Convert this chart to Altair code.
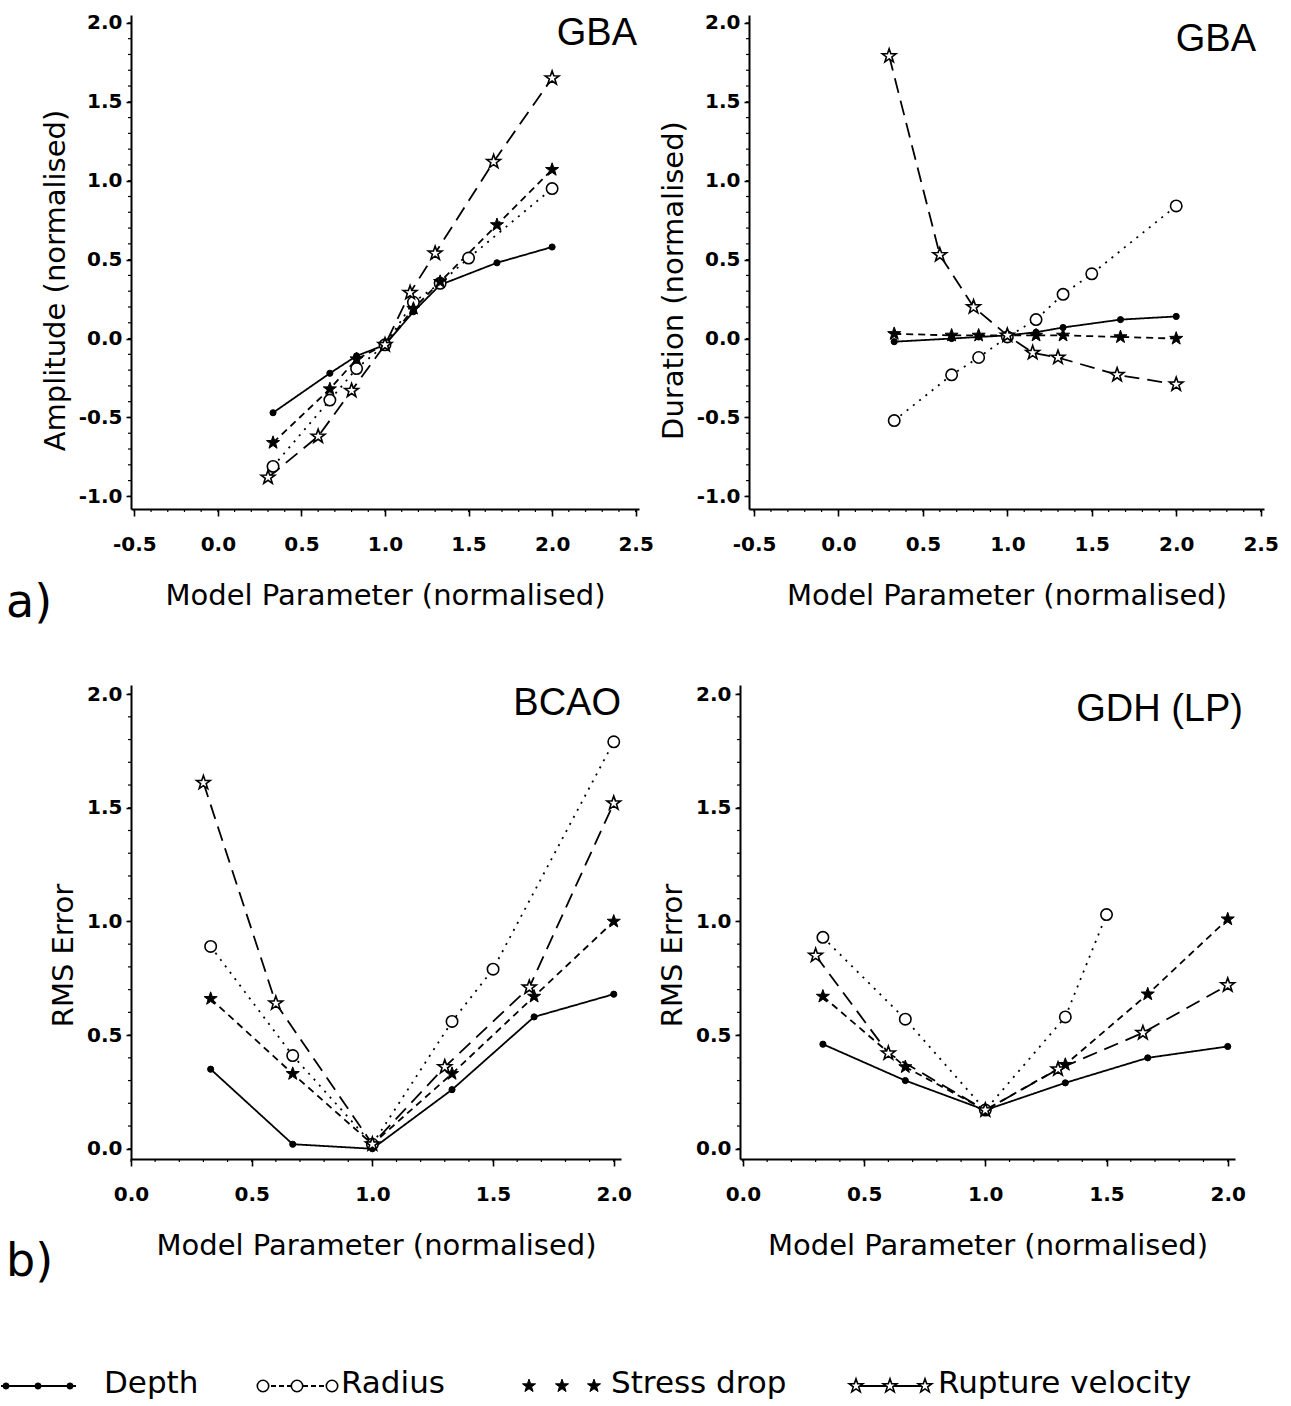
import altair as alt
import pandas as pd

SERIES = ["Depth", "Radius", "Stress drop", "Rupture velocity"]

# ---------------- data ----------------
# a) left: Amplitude (normalised), GBA
amp_depth_x = [0.33, 0.67, 0.83, 1.0, 1.17, 1.33, 1.67, 2.0]
amp_depth_y = [-0.47, -0.22, -0.11, -0.04, 0.17, 0.34, 0.48, 0.58]
amp_radius_x = [0.33, 0.67, 0.83, 1.0, 1.17, 1.33, 1.5, 2.0]
amp_radius_y = [-0.81, -0.39, -0.19, -0.04, 0.23, 0.35, 0.51, 0.95]
amp_stress_x = [0.33, 0.67, 0.83, 1.0, 1.17, 1.33, 1.67, 2.0]
amp_stress_y = [-0.66, -0.32, -0.13, -0.04, 0.19, 0.36, 0.72, 1.07]
amp_rupture_x = [0.3, 0.6, 0.8, 1.0, 1.15, 1.3, 1.65, 2.0]
amp_rupture_y = [-0.88, -0.62, -0.33, -0.04, 0.29, 0.54, 1.12, 1.65]

# a) right: Duration (normalised), GBA
dur_depth_x = [0.33, 0.67, 0.83, 1.0, 1.17, 1.33, 1.67, 2.0]
dur_depth_y = [-0.02, 0.0, 0.01, 0.02, 0.04, 0.07, 0.12, 0.14]
dur_radius_x = [0.33, 0.67, 0.83, 1.0, 1.17, 1.33, 1.5, 2.0]
dur_radius_y = [-0.52, -0.23, -0.12, 0.01, 0.12, 0.28, 0.41, 0.84]
dur_stress_x = [0.33, 0.67, 0.83, 1.0, 1.17, 1.33, 1.67, 2.0]
dur_stress_y = [0.03, 0.02, 0.02, 0.02, 0.02, 0.02, 0.01, 0.0]
dur_rupture_x = [0.3, 0.6, 0.8, 1.0, 1.15, 1.3, 1.65, 2.0]
dur_rupture_y = [1.79, 0.53, 0.2, 0.02, -0.09, -0.12, -0.23, -0.29]

# b) left: RMS Error, BCAO
bcao_depth_x = [0.33, 0.67, 1.0, 1.33, 1.67, 2.0]
bcao_depth_y = [0.35, 0.02, 0.0, 0.26, 0.58, 0.68]
bcao_radius_x = [0.33, 0.67, 1.0, 1.33, 1.5, 2.0]
bcao_radius_y = [0.89, 0.41, 0.02, 0.56, 0.79, 1.79]
bcao_stress_x = [0.33, 0.67, 1.0, 1.33, 1.67, 2.0]
bcao_stress_y = [0.66, 0.33, 0.02, 0.33, 0.67, 1.0]
bcao_rupture_x = [0.3, 0.6, 1.0, 1.3, 1.65, 2.0]
bcao_rupture_y = [1.61, 0.64, 0.02, 0.36, 0.71, 1.52]

# b) right: RMS Error, GDH (LP)
gdh_depth_x = [0.33, 0.67, 1.0, 1.33, 1.67, 2.0]
gdh_depth_y = [0.46, 0.30, 0.17, 0.29, 0.40, 0.45]
gdh_radius_x = [0.33, 0.67, 1.0, 1.33, 1.5]
gdh_radius_y = [0.93, 0.57, 0.17, 0.58, 1.03]
gdh_stress_x = [0.33, 0.67, 1.0, 1.33, 1.67, 2.0]
gdh_stress_y = [0.67, 0.36, 0.17, 0.37, 0.68, 1.01]
gdh_rupture_x = [0.3, 0.6, 1.0, 1.3, 1.65, 2.0]
gdh_rupture_y = [0.85, 0.42, 0.17, 0.35, 0.51, 0.72]

ticks_a_x = [-0.5, 0.0, 0.5, 1.0, 1.5, 2.0, 2.5]
ticks_a_y = [-1.0, -0.5, 0.0, 0.5, 1.0, 1.5, 2.0]
ticks_b_x = [0.0, 0.5, 1.0, 1.5, 2.0]
ticks_b_y = [0.0, 0.5, 1.0, 1.5, 2.0]
minor_a_x = [round(-0.5 + 0.1 * i, 2) for i in range(31)]
minor_a_y = [round(-1.0 + 0.1 * i, 2) for i in range(31)]
minor_b_x = [round(0.1 * i, 2) for i in range(21)]
minor_b_y = [round(0.1 * i, 2) for i in range(21)]

# ---------------- styles ----------------
STAR = ("M0,-1L0.235,-0.324L0.951,-0.309L0.38,0.124L0.588,0.809L0,0.4"
        "L-0.588,0.809L-0.38,0.124L-0.951,-0.309L-0.235,-0.324Z")
DASHES = [[1, 0], [2, 6], [7, 5], [15, 8]]
MARKERS = {
    "Depth": dict(shape="circle", fill="black", stroke="black", size=38, strokeWidth=1),
    "Radius": dict(shape="circle", fill="white", stroke="black", size=130, strokeWidth=1.6),
    "Stress drop": dict(shape=STAR, fill="black", stroke="black", size=190, strokeWidth=1),
    "Rupture velocity": dict(shape=STAR, fill="white", stroke="black", size=210, strokeWidth=1.6),
}
LABEL_FONT = "DejaVu Sans"
TITLE_FONT = "DejaVu Sans"
LABEL_EXPR = "(datum.value < 0 ? '-' : '') + format(abs(datum.value), '.1f')"


def make_df(lists):
    rows = []
    for s, (xs, ys) in zip(SERIES, lists):
        for x, y in zip(xs, ys):
            rows.append({"series": s, "x": x, "y": y})
    return pd.DataFrame(rows)


def axis(values, title, is_x, title_y=None):
    common = dict(
        values=values, labelExpr=LABEL_EXPR, title=title, grid=False,
        domainColor="black", domainWidth=2, tickColor="black", tickWidth=1.6,
        labelColor="black", labelFont=LABEL_FONT, labelFontSize=20,
        labelFontWeight="bold", titleFont=TITLE_FONT, titleFontSize=29,
        titleFontWeight="normal", titleColor="black", labelFlush=False,
    )
    if is_x:
        common.update(tickSize=7, labelPadding=18, titlePadding=27)
    else:
        common.update(tickSize=5, labelPadding=4, titlePadding=8)
        if title_y is not None:
            common.update(titleY=title_y)
    return alt.Axis(**common)


def panel(lists, xdom, ydom, xticks, yticks, xminor, yminor, ytitle, w, h,
          name, name_x, name_y, title_shift, tag=None, tag_x=0, tag_y=0):
    df = make_df(lists)
    base = alt.Chart(df)
    xs = alt.Scale(domain=xdom, nice=False, zero=False)
    ys = alt.Scale(domain=ydom, nice=False, zero=False)
    X = alt.X("x:Q", scale=xs, axis=axis(xticks, "Model Parameter (normalised)", True))
    Y = alt.Y("y:Q", scale=ys, axis=axis(yticks, ytitle, False, h / 2 + title_shift))
    lines = base.mark_line(color="black", strokeWidth=1.8).encode(
        x=X, y=Y, detail="series:N",
        strokeDash=alt.StrokeDash("series:N", scale=alt.Scale(domain=SERIES, range=DASHES), legend=None),
    )
    layers = [lines]
    # minor ticks
    layers.append(
        alt.Chart(pd.DataFrame({"x": xminor})).mark_rule(color="black", strokeWidth=1.2).encode(
            x=alt.X("x:Q", scale=xs), y=alt.value(h), y2=alt.value(h + 3))
    )
    layers.append(
        alt.Chart(pd.DataFrame({"y": yminor})).mark_rule(color="black", strokeWidth=1.2).encode(
            y=alt.Y("y:Q", scale=ys), x=alt.value(0), x2=alt.value(-3))
    )
    for s in SERIES:
        m = MARKERS[s]
        layers.append(
            base.transform_filter(alt.datum.series == s)
            .mark_point(filled=True, opacity=1, **m)
            .encode(x=X, y=Y)
        )
    ttl = alt.Chart(pd.DataFrame({"t": [name]})).mark_text(
        font="Liberation Sans", fontSize=38, align="right", baseline="alphabetic", color="black"
    ).encode(text="t:N", x=alt.value(name_x), y=alt.value(name_y))
    layers.append(ttl)
    if tag:
        tg = alt.Chart(pd.DataFrame({"t": [tag]})).mark_text(
            font="DejaVu Sans", fontSize=46, align="left", baseline="middle", color="black"
        ).encode(text="t:N", x=alt.value(tag_x), y=alt.value(tag_y))
        layers.append(tg)
    return alt.layer(*layers).properties(width=w, height=h)


WA1, WA2, HA = 508, 515, 494
WB1, WB2, HB = 490, 495, 474

pa1 = panel([(amp_depth_x, amp_depth_y), (amp_radius_x, amp_radius_y),
             (amp_stress_x, amp_stress_y), (amp_rupture_x, amp_rupture_y)],
            [-0.52, 2.52], [-1.08, 2.05], ticks_a_x, ticks_a_y, minor_a_x, minor_a_y,
            "Amplitude (normalised)", WA1, HA, "GBA", WA1 - 2, 30, 18,
            tag="a)", tag_x=-125, tag_y=HA + 94)
pa2 = panel([(dur_depth_x, dur_depth_y), (dur_radius_x, dur_radius_y),
             (dur_stress_x, dur_stress_y), (dur_rupture_x, dur_rupture_y)],
            [-0.53, 2.52], [-1.08, 2.05], ticks_a_x, ticks_a_y, minor_a_x, minor_a_y,
            "Duration (normalised)", WA2, HA, "GBA", WA2 - 8, 36, 18)
pb1 = panel([(bcao_depth_x, bcao_depth_y), (bcao_radius_x, bcao_radius_y),
             (bcao_stress_x, bcao_stress_y), (bcao_rupture_x, bcao_rupture_y)],
            [0.0, 2.03], [-0.045, 2.04], ticks_b_x, ticks_b_y, minor_b_x, minor_b_y,
            "RMS Error", WB1, HB, "BCAO", WB1, 30, 33,
            tag="b)", tag_x=-125, tag_y=HB + 103)
pb2 = panel([(gdh_depth_x, gdh_depth_y), (gdh_radius_x, gdh_radius_y),
             (gdh_stress_x, gdh_stress_y), (gdh_rupture_x, gdh_rupture_y)],
            [-0.012, 2.03], [-0.045, 2.04], ticks_b_x, ticks_b_y, minor_b_x, minor_b_y,
            "RMS Error", WB2, HB, "GDH (LP)", WB2 + 8, 36, 33)

row_a = alt.hconcat(pa1, pa2, spacing=5).resolve_scale(x="independent", y="independent")
row_b = alt.hconcat(pb1, pb2, spacing=26).resolve_scale(x="independent", y="independent")

# ---------------- legend ----------------
ORIGIN = 130  # x of the plot origin the legend row is aligned to
LEG_W = 1150
LEG_MARK_X = {"Depth": [5, 37, 69], "Radius": [262, 296, 331],
              "Stress drop": [528, 561, 593], "Rupture velocity": [855, 889, 924]}
LEG_LINE = {"Depth": (0, 75), "Radius": (262, 331), "Stress drop": (528, 593), "Rupture velocity": (855, 924)}
LEG_TEXT_X = {"Depth": 103, "Radius": 340, "Stress drop": 610, "Rupture velocity": 937}
LEG_DASH = {"Depth": [1, 0], "Radius": [5, 3], "Stress drop": [0, 10], "Rupture velocity": [1, 0]}

lx = alt.Scale(domain=[ORIGIN, ORIGIN + LEG_W], nice=False, zero=False)
leg_layers = []
for s in SERIES:
    a, b = LEG_LINE[s]
    leg_layers.append(
        alt.Chart(pd.DataFrame({"x": [a], "x2": [b]})).mark_rule(
            color="black", strokeWidth=2, strokeDash=LEG_DASH[s]
        ).encode(x=alt.X("x:Q", scale=lx, axis=None), x2="x2:Q", y=alt.value(24))
    )
    leg_layers.append(
        alt.Chart(pd.DataFrame({"x": LEG_MARK_X[s]})).mark_point(filled=True, opacity=1, **MARKERS[s]).encode(
            x=alt.X("x:Q", scale=lx, axis=None), y=alt.value(24))
    )
    leg_layers.append(
        alt.Chart(pd.DataFrame({"x": [LEG_TEXT_X[s]], "t": [s]})).mark_text(
            font="DejaVu Sans", fontSize=31, align="left", baseline="middle", color="black"
        ).encode(x=alt.X("x:Q", scale=lx, axis=None), y=alt.value(22), text="t:N")
    )
legend = alt.layer(*leg_layers).properties(width=LEG_W, height=40)

lower = alt.vconcat(row_b, legend, spacing=77).resolve_scale(x="independent", y="independent")

chart = alt.vconcat(row_a, lower, spacing=58).resolve_scale(
    x="independent", y="independent"
).properties(
    padding={"left": 0, "top": 12, "right": 0, "bottom": 0},
    background="white",
).configure_view(stroke=None)

chart.save("out.html", embed_options={"renderer": "svg", "actions": False})
